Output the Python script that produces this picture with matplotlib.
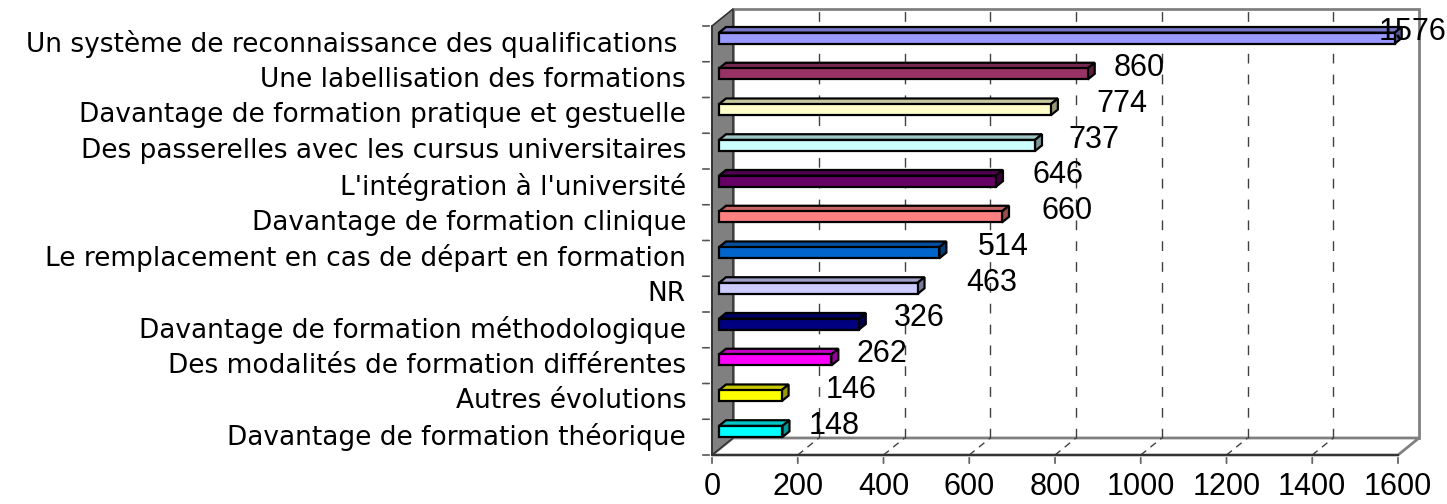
import matplotlib.pyplot as plt
from matplotlib.patches import Polygon, Rectangle
import numpy as np

plt.rcParams['font.family'] = ['Liberation Sans', 'DejaVu Sans']

categories = [
    "Un système de reconnaissance des qualifications ",
    "Une labellisation des formations",
    "Davantage de formation pratique et gestuelle",
    "Des passerelles avec les cursus universitaires",
    "L'intégration à l'université",
    "Davantage de formation clinique",
    "Le remplacement en cas de départ en formation",
    "NR",
    "Davantage de formation méthodologique",
    "Des modalités de formation différentes",
    "Autres évolutions",
    "Davantage de formation théorique",
]
values = [1576, 860, 774, 737, 646, 660, 514, 463, 326, 262, 146, 148]
bar_colors = ["#9999FF", "#993366", "#FFFFCC", "#CCFFFF", "#660066", "#FF8080",
              "#0066CC", "#CCCCFF", "#000080", "#FF00FF", "#FFFF00", "#00FFFF"]
xticks = [0, 200, 400, 600, 800, 1000, 1200, 1400, 1600]

# where each value label sits, right of its bar (value units)
label_dx = [57, 136, 182, 154, 160, 168, 165, 190, 157, 135, 178, 137]
label_dy = -0.32

xmax = 1600
n = len(categories)
ylo, yhi = n - 0.5, -0.5

# depth of the 3D box in data units
DX = 49.0
DY = 0.476
bar_h = 0.31

fig = plt.figure(figsize=(14.47, 5.04), dpi=100)
ax = fig.add_axes([712 / 1447, 49 / 504, 686 / 1447, 429 / 504])
ax.set_xlim(0, xmax)
ax.set_ylim(ylo, yhi)
ax.axis('off')

wall_edge = '#808080'

# back wall
ax.add_patch(Rectangle((DX, yhi - DY), xmax, n, facecolor='white',
                       edgecolor=wall_edge, lw=2, clip_on=False, zorder=1))
# floor
ax.add_patch(Polygon([(0, ylo), (xmax, ylo), (xmax + DX, ylo - DY), (DX, ylo - DY)],
                     closed=True, facecolor='white', edgecolor=wall_edge, lw=2,
                     clip_on=False, zorder=1))
# left wall
ax.add_patch(Polygon([(0, yhi), (DX, yhi - DY), (DX, ylo - DY), (0, ylo)],
                     closed=True, facecolor='#808080', edgecolor='#333333', lw=1.2,
                     clip_on=False, zorder=2))

# gridlines on wall and floor
for v in xticks[1:-1]:
    ax.plot([v + DX, v + DX], [ylo - DY, yhi - DY], color='#404040', lw=1.0,
            ls=(0, (7, 8)), clip_on=False, zorder=1.5)
    ax.plot([v, v + DX], [ylo, ylo - DY], color='#404040', lw=1.0,
            ls=(0, (5, 4)), clip_on=False, zorder=1.5)

# front axis line and ticks
ax.plot([0, xmax], [ylo, ylo], color='#333333', lw=1.5, clip_on=False, zorder=3)
ax.plot([0, 0], [ylo, yhi], color='#333333', lw=1.2, clip_on=False, zorder=3)
for v in xticks:
    ax.annotate('', xy=(v, ylo), xytext=(0, -11), textcoords='offset pixels',
                arrowprops=dict(arrowstyle='-', color='#666666', lw=1.3))
    ax.annotate(str(v), xy=(v, ylo), xytext=(0, -32), textcoords='offset pixels',
                ha='center', va='center', fontsize=22, color='black')

# category ticks and labels
for k in range(n + 1):
    ax.annotate('', xy=(0, k - 0.5), xytext=(-12, 0), textcoords='offset pixels',
                arrowprops=dict(arrowstyle='-', color='#555555', lw=1.2))
for i, lab in enumerate(categories):
    ax.annotate(lab, xy=(0, i), xytext=(-26, 0), textcoords='offset pixels',
                ha='right', va='center', fontsize=19, color='black',
                family=['DejaVu Sans'])


def shade(c, f):
    rgb = np.array(plt.matplotlib.colors.to_rgb(c))
    return tuple(rgb * f)


# 3D bars: front face, top face and end cap
fx, fy = DX / 3, DY / 3
for i, (v, c) in enumerate(zip(values, bar_colors)):
    yc = i - fy
    top, bot = yc - bar_h / 2, yc + bar_h / 2
    x0, x1 = fx, v + fx
    ax.add_patch(Polygon([(x0, top), (x1, top), (x1 + fx, top - fy), (x0 + fx, top - fy)],
                         closed=True, facecolor=shade(c, 0.78), edgecolor='black',
                         lw=1.6, clip_on=False, zorder=4))
    ax.add_patch(Polygon([(x1, top), (x1, bot), (x1 + fx, bot - fy), (x1 + fx, top - fy)],
                         closed=True, facecolor=shade(c, 0.6), edgecolor='black',
                         lw=1.6, clip_on=False, zorder=4))
    ax.add_patch(Rectangle((x0, top), v, bar_h, facecolor=c, edgecolor='black',
                           lw=1.6, clip_on=False, zorder=5))
    ax.text(v + label_dx[i], i + label_dy, str(v), ha='center', va='center',
            fontsize=22, color='black', zorder=6, clip_on=False)

fig.savefig('out.png', dpi=100)
